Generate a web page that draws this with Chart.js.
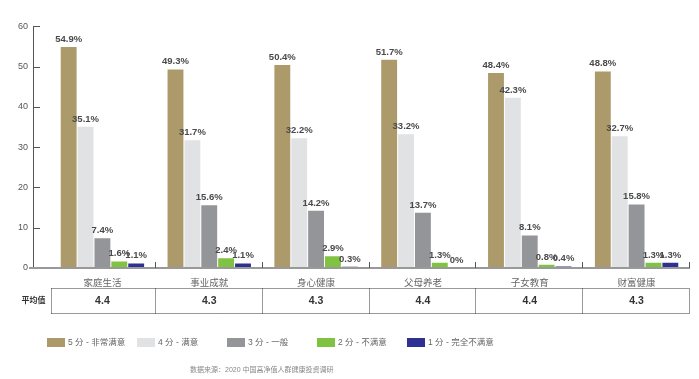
<!DOCTYPE html>
<html>
<head>
<meta charset="utf-8">
<script src="https://cdn.jsdelivr.net/npm/chart.js@4"></script>
<style>
  html, body { margin: 0; padding: 0; background: #fff; }
  #wrap { width: 699px; height: 379px; position: relative; }
</style>
</head>
<body>
<div id="wrap"><canvas id="chart" width="699" height="379"></canvas></div>
<script>
var categories = ['家庭生活', '事业成就', '身心健康', '父母养老', '子女教育', '财富健康'];
var seriesNames = ['5 分 - 非常满意', '4 分 - 满意', '3 分 - 一般', '2 分 - 不满意', '1 分 - 完全不满意'];
var score5 = [54.9, 49.3, 50.4, 51.7, 48.4, 48.8];
var score4 = [35.1, 31.7, 32.2, 33.2, 42.3, 32.7];
var score3 = [7.4, 15.6, 14.2, 13.7, 8.1, 15.8];
var score2 = [1.6, 2.4, 2.9, 1.3, 0.8, 1.3];
var score1 = [1.1, 1.1, 0.3, 0, 0.4, 1.3];
var avgScores = ['4.4', '4.3', '4.3', '4.4', '4.4', '4.3'];
var yTicks = [0, 10, 20, 30, 40, 50, 60];
var colors = ['#ad9a6a', '#e1e2e4', '#939598', '#80c342', '#2e3192'];
var sourceText = '数据来源：2020 中国高净值人群健康投资调研';

var FONT = '"Liberation Sans", "Noto Sans CJK SC", Arial, sans-serif';

function makeDataset(i, values) {
  return {
    label: seriesNames[i],
    data: values,
    backgroundColor: colors[i],
    borderWidth: 0,
    categoryPercentage: 0.79,
    barPercentage: 0.94
  };
}

// y axis line, baseline and group ticks are drawn by hand like the source picture
var axisPlugin = {
  id: 'axisPlugin',
  afterDatasetsDraw: function(chart) {
    var ctx = chart.ctx;
    var area = chart.chartArea;
    var y = chart.scales.y;
    var x = chart.scales.x;
    var axisX = area.left - 16;
    ctx.save();
    ctx.strokeStyle = '#555';
    ctx.lineWidth = 1;
    ctx.beginPath();
    ctx.moveTo(axisX + 0.5, area.top);
    ctx.lineTo(axisX + 0.5, area.bottom);
    yTicks.forEach(function(t) {
      var py = Math.round(y.getPixelForValue(t)) + 0.5;
      ctx.moveTo(axisX, py);
      ctx.lineTo(axisX + 7, py);
    });
    ctx.stroke();

    // baseline
    var base = y.getPixelForValue(0);
    ctx.strokeStyle = '#999';
    ctx.lineWidth = 2;
    ctx.beginPath();
    ctx.moveTo(axisX - 4, base);
    ctx.lineTo(area.right, base);
    ctx.stroke();

    // small ticks between groups
    var half = (x.getPixelForValue(1) - x.getPixelForValue(0)) / 2;
    ctx.strokeStyle = '#555';
    ctx.lineWidth = 1;
    ctx.beginPath();
    for (var i = 0; i < categories.length; i++) {
      var px = Math.round(x.getPixelForValue(i) + half) - 0.5;
      ctx.moveTo(px, base);
      ctx.lineTo(px, base - 6);
    }
    ctx.stroke();

    // value labels
    ctx.font = 'bold 9.5px ' + FONT;
    ctx.fillStyle = '#4a4a4a';
    ctx.textAlign = 'center';
    ctx.textBaseline = 'bottom';
    chart.data.datasets.forEach(function(ds, di) {
      var meta = chart.getDatasetMeta(di);
      meta.data.forEach(function(bar, j) {
        ctx.fillText(ds.data[j] + '%', bar.x, bar.y - 3);
      });
    });
    ctx.restore();
  }
};

// table with average score, legend and source line
var bottomPlugin = {
  id: 'bottomPlugin',
  afterDraw: function(chart) {
    var ctx = chart.ctx;
    var area = chart.chartArea;
    var x = chart.scales.x;
    var half = (x.getPixelForValue(1) - x.getPixelForValue(0)) / 2;
    var top = 288.5, bottom = 313.5;
    var left = area.left + 2.5, right = area.right - 0.5;
    ctx.save();
    ctx.strokeStyle = '#333';
    ctx.lineWidth = 1;
    ctx.setLineDash([1, 1]);
    ctx.beginPath();
    ctx.moveTo(left, top); ctx.lineTo(right, top);
    ctx.moveTo(left, bottom); ctx.lineTo(right, bottom);
    ctx.moveTo(left, top); ctx.lineTo(left, bottom);
    for (var i = 0; i < categories.length; i++) {
      var px = Math.round(x.getPixelForValue(i) + half) - 0.5;
      ctx.moveTo(px, top); ctx.lineTo(px, bottom);
    }
    ctx.stroke();
    ctx.setLineDash([]);

    ctx.textBaseline = 'middle';
    ctx.textAlign = 'center';
    ctx.fillStyle = '#333';
    ctx.font = 'bold 10.5px ' + FONT;
    avgScores.forEach(function(v, k) {
      ctx.fillText(v, x.getPixelForValue(k), 301);
    });
    ctx.font = 'bold 8px ' + FONT;
    ctx.fillText('平均值', 33.5, 301);

    // legend
    ctx.textAlign = 'left';
    ctx.font = '8.5px ' + FONT;
    chart.data.datasets.forEach(function(ds, di) {
      var lx = 47 + di * 90;
      ctx.fillStyle = ds.backgroundColor;
      ctx.fillRect(lx, 338, 18, 9);
      ctx.fillStyle = '#666';
      ctx.fillText(ds.label, lx + 21, 343);
    });

    ctx.font = '7px ' + FONT;
    ctx.fillStyle = '#888';
    ctx.fillText(sourceText, 190, 370);
    ctx.restore();
  }
};

new Chart(document.getElementById('chart'), {
  type: 'bar',
  data: {
    labels: categories,
    datasets: [
      makeDataset(0, score5),
      makeDataset(1, score4),
      makeDataset(2, score3),
      makeDataset(3, score2),
      makeDataset(4, score1)
    ]
  },
  options: {
    responsive: false,
    animation: false,
    layout: { padding: { top: 16, right: 9, left: 0, bottom: 0 } },
    plugins: { legend: { display: false }, tooltip: { enabled: false } },
    scales: {
      x: {
        grid: { display: false, drawTicks: false },
        border: { display: false },
        ticks: { color: '#666', font: { size: 9.5, family: FONT }, padding: 10, maxRotation: 0 },
        afterFit: function(s) { s.height = 111; }
      },
      y: {
        min: 0, max: 60,
        grid: { display: false, drawTicks: false },
        border: { display: false },
        ticks: { stepSize: 10, color: '#555', font: { size: 9, family: FONT }, padding: 21 },
        afterFit: function(s) { s.width = 49; }
      }
    }
  },
  plugins: [axisPlugin, bottomPlugin]
});
</script>
</body>
</html>
